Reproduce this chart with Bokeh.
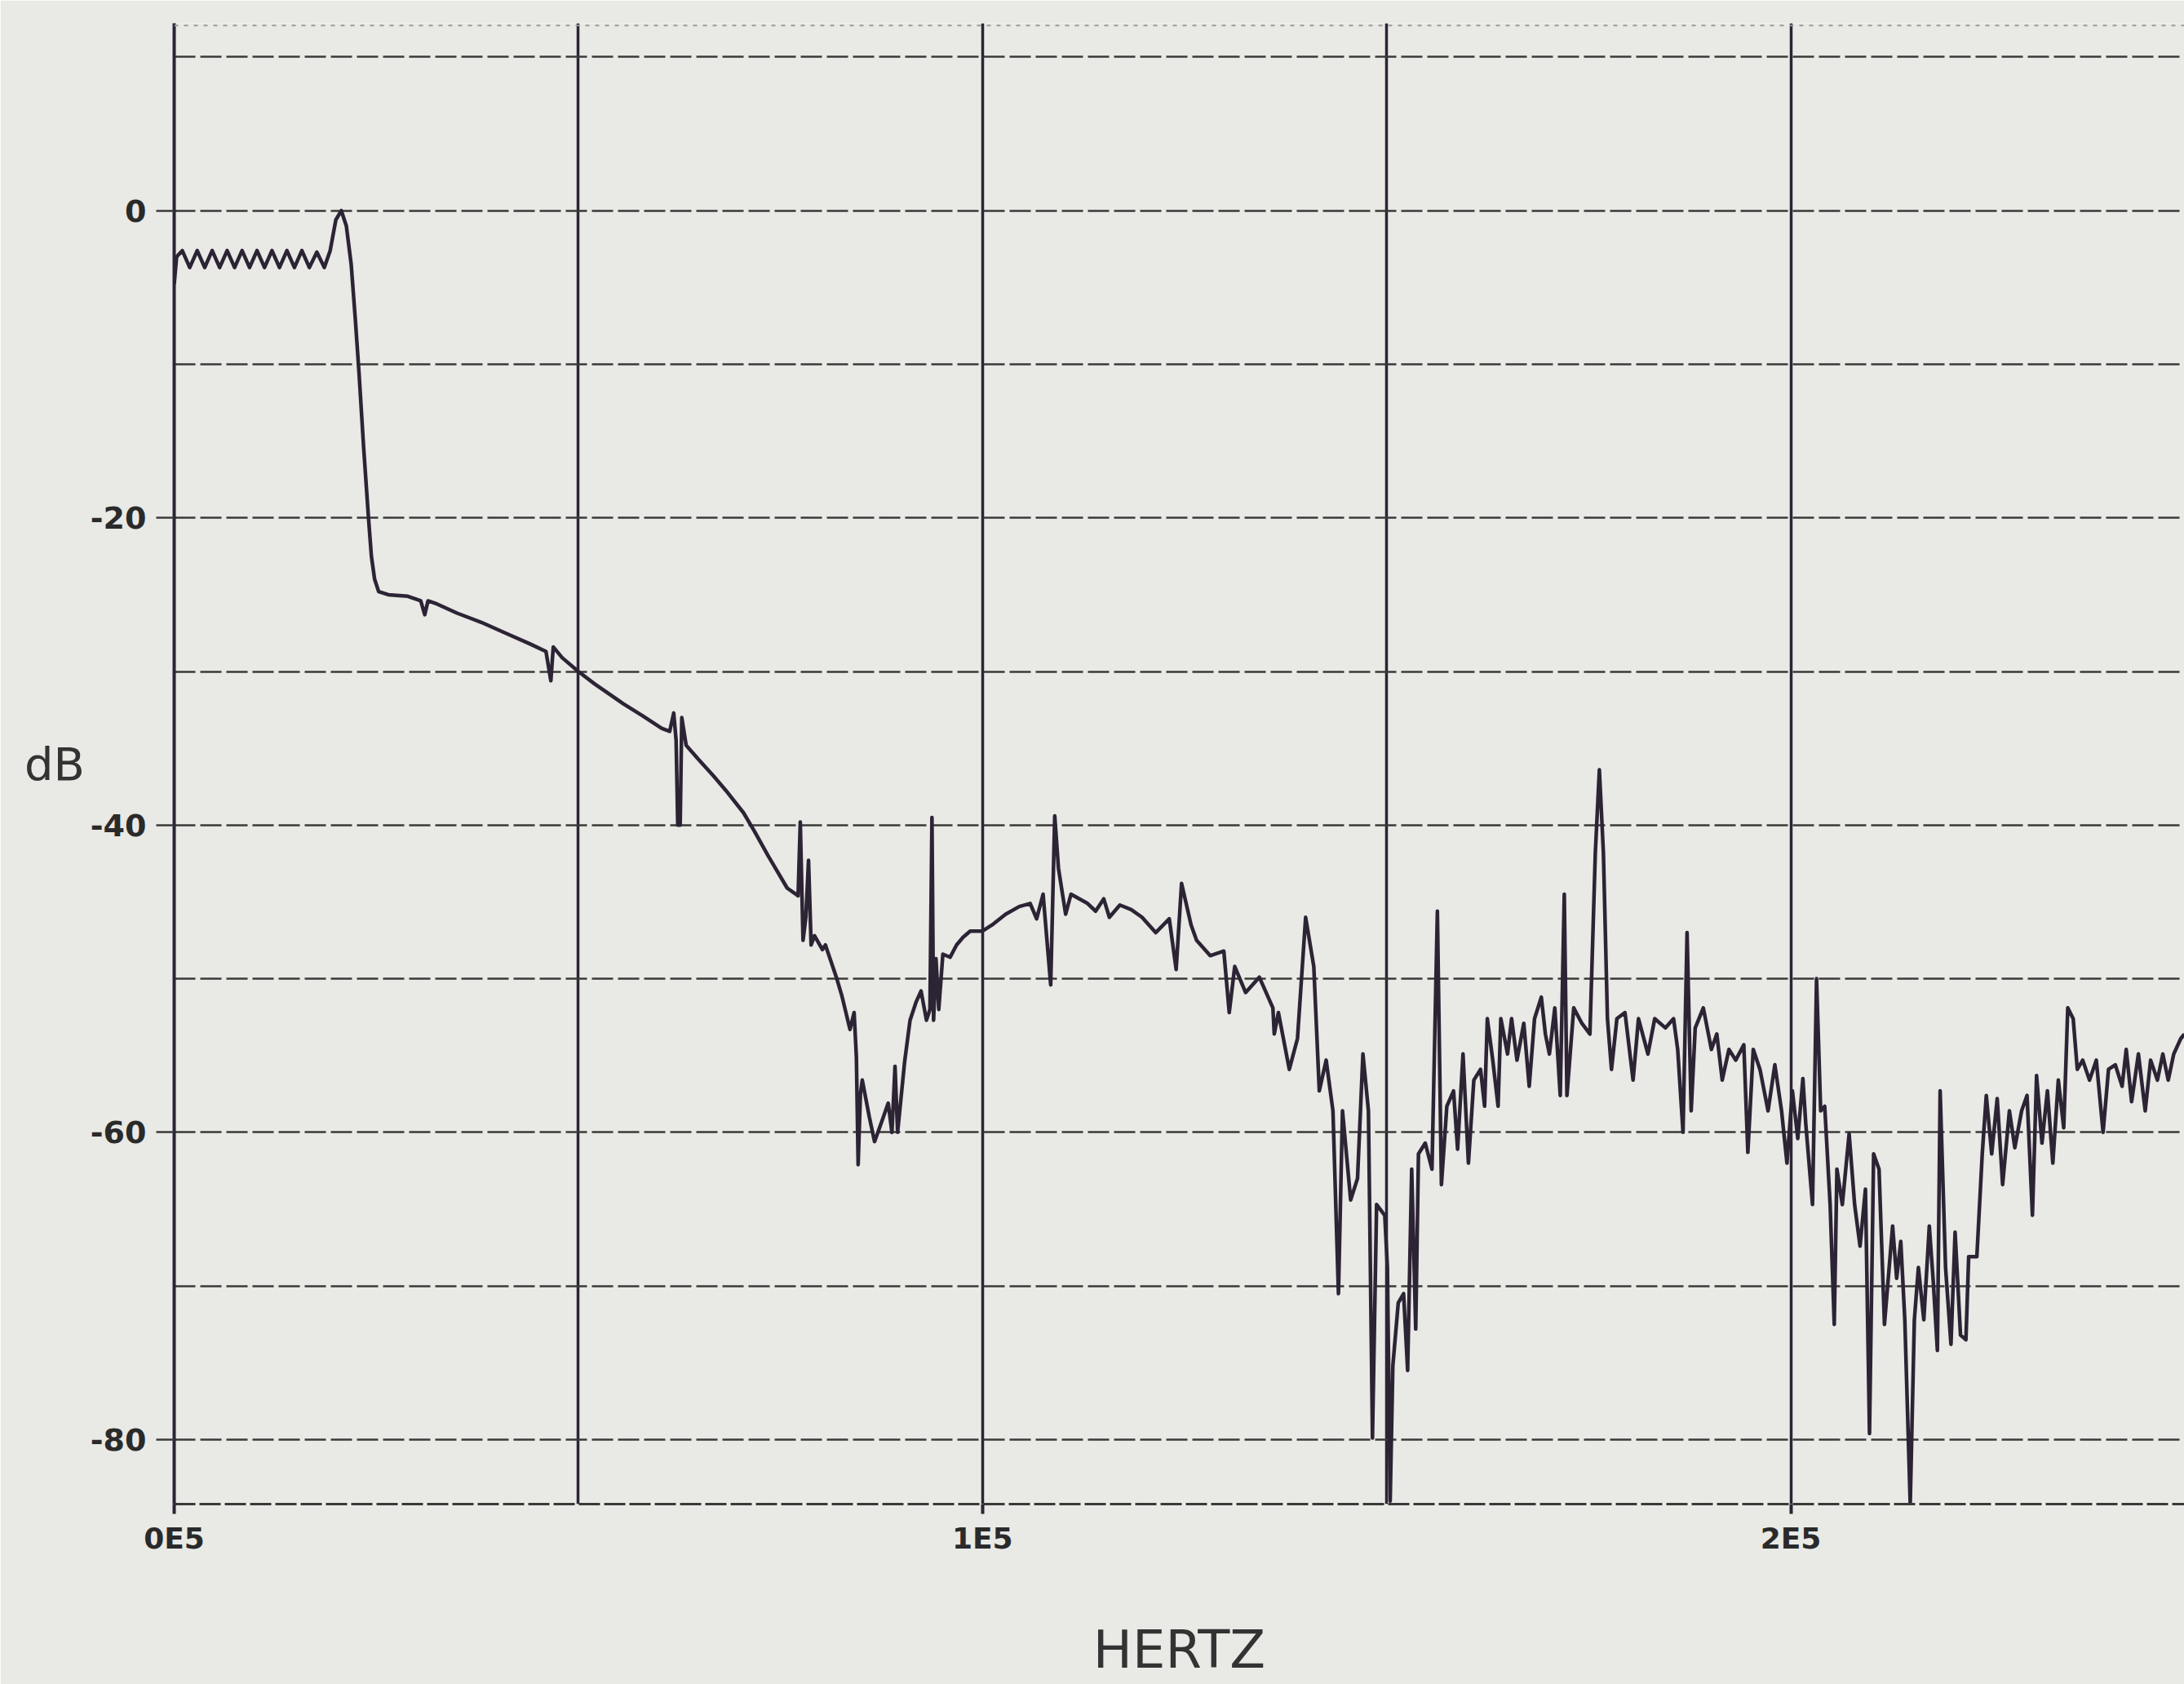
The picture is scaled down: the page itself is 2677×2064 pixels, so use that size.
from bokeh.plotting import figure
from bokeh.models import Range1d, FixedTicker, Span
from bokeh.embed import file_html
from bokeh.resources import INLINE

# ---------------- data ----------------
freq_hz = [
    0, 300, 1000, 1925, 2850, 3775, 4700, 5625, 6550, 7475, 8400, 9325, 10250, 11175,
    12100, 13025, 13950, 14875, 15800, 16725, 17650, 18575, 19300, 20000, 20680,
    21300, 21900, 22400, 22860, 23450, 24040, 24400, 24800, 25300, 26500, 28900,
    30500, 31000, 31400, 32500, 35000, 38000, 41000, 44000, 46000, 46600, 46900,
    48000, 50000,
    52000, 55570, 58000, 60300, 61300, 61800, 62100, 62300, 62600, 62800, 63100,
    63340, 65000, 66720, 68500, 70440, 71790, 73480, 75840, 77190, 77460, 77800,
    78150, 78480, 78800, 79220, 80200, 80570, 81920, 82600, 83610, 84120, 84400,
    84620, 84900, 85130, 86000, 86650, 87670, 88340, 88800, 89180, 89500, 90370,
    91040, 91800, 92400, 93070, 93500, 93750, 93950, 94250, 94590, 95100, 96000,
    96790, 97600, 98480, 100000,
    101180, 102870, 104550, 105900, 106700, 107500, 108440, 108940, 109400, 110290,
    110950, 113000, 114000, 115000, 115700, 117000, 118400, 119740, 121430, 123110,
    123960, 124630, 125810, 126490, 128170, 129860, 130530, 131210, 132560, 134250,
    135930, 136100, 136610, 137960, 138970, 139980, 140990, 141670, 142520, 143360,
    144040, 144540, 145550, 146400, 147070, 147750, 148250, 148760, 149770, 150100,
    150440, 150770, 151440, 152100, 152600, 153100, 153600, 153940,
    154780, 155610, 156280, 156780, 157450, 158280, 158780, 159450, 160120, 160790,
    161620, 162120, 162460, 163130, 163790, 164130, 164960, 165460, 166130, 166970,
    167640, 168300, 169140, 169640, 170140, 170810, 171480, 171980, 172310, 173150,
    174150, 175150, 175820, 176320, 176820, 177320, 177820, 178490, 179490, 180490,
    181160, 182330, 183170, 184500, 185500, 186010, 186670, 187170, 187680, 188180,
    189180, 190180, 190850, 191520, 192350, 193190, 194190, 194690, 195360, 196190,
    197190, 198030, 198860, 199530, 200200, 200870, 201500, 201850,
    202690, 203190, 203700, 204200, 204870, 205380, 205710, 206380, 207220, 207900,
    208570, 209240, 209740, 210250, 210920, 211590, 212600, 213100, 213610, 214110,
    214780, 215290, 215790, 216460, 217140, 217640, 218140, 218480, 219150, 219820,
    220330, 221000, 221670, 222010, 223020, 223690, 224190, 224860, 225540, 226210,
    227050, 227720, 228560, 229230, 229900, 230410, 231080, 231750, 232420, 233100,
    233770, 234270, 234940, 235450, 236120, 236960, 237800, 238640, 239310, 240150,
    240990, 241500, 242170, 243010, 243850, 244520, 245360, 246030, 246700, 247380,
    248250, 248700,
]
level_db = [
    -4.8, -3.0, -2.6, -3.7, -2.6, -3.7, -2.6, -3.7, -2.6, -3.7, -2.6, -3.7, -2.6, -3.7,
    -2.6, -3.7, -2.6, -3.7, -2.6, -3.7, -2.7, -3.7, -2.6, -0.6, 0.0,
    -1.0, -3.5, -7.0, -10.5, -15.5, -20.0, -22.5, -24.0, -24.8, -25.0, -25.1,
    -25.4, -26.3, -25.4, -25.6, -26.2, -26.8, -27.5, -28.2, -28.7, -30.6, -28.4,
    -29.1, -30.0,
    -30.8, -32.1, -32.9, -33.7, -33.9, -32.7, -34.5, -40.0, -40.0, -33.0, -34.0,
    -34.8, -35.8, -36.8, -37.9, -39.2, -40.4, -42.0, -44.1, -44.6, -39.8, -47.5,
    -46.0, -42.3, -47.8, -47.2, -48.1, -47.8, -49.9, -51.1, -53.3, -52.2, -55.1,
    -62.1, -57.5, -56.6, -59.0, -60.6, -59.1, -58.1, -60.0, -55.7, -60.0, -55.4,
    -52.7, -51.5, -50.8, -52.7, -52.0, -39.5, -52.7, -48.7, -52.0, -48.4, -48.6,
    -47.8, -47.3, -46.9, -46.9,
    -46.5, -45.8, -45.3, -45.1, -46.1, -44.5, -50.4, -39.4, -42.8, -45.8,
    -44.5, -45.1, -45.6, -44.8, -46.0, -45.2, -45.5, -46.0, -47.0, -46.1,
    -49.4, -43.8, -46.5, -47.5, -48.5, -48.2, -52.2, -49.2, -50.9, -49.9,
    -51.9, -53.6, -52.2, -55.9, -53.9, -46.0, -49.2, -57.3, -55.3, -58.6,
    -70.5, -58.6, -64.4, -63.0, -54.9, -58.6, -79.9, -64.7, -65.4, -68.8,
    -84.0, -75.2, -71.1, -70.5, -75.5, -62.4, -72.8, -61.4,
    -60.7, -62.4, -45.6, -63.4, -58.3, -57.3, -61.1, -54.9, -62.0, -56.6,
    -55.9, -58.3, -52.6, -55.3, -58.3, -52.6, -54.9, -52.6, -55.3, -52.9,
    -57.0, -52.6, -51.2, -53.6, -54.9, -51.9, -57.6, -44.5, -57.6, -51.9,
    -52.9, -53.6, -41.8, -36.4, -41.8, -52.6, -55.9, -52.6, -52.2, -56.6,
    -52.6, -54.9, -52.6, -53.2, -52.6, -54.6, -60.0, -47.0, -58.6, -53.2,
    -51.9, -54.6, -53.6, -56.6, -54.6, -55.3, -54.3, -61.3, -54.6, -55.9,
    -58.6, -55.6, -58.6, -62.0, -57.3, -60.4, -56.5, -59.4,
    -64.7, -50.0, -58.6, -58.3, -64.7, -72.5, -62.4, -64.7, -60.1, -64.7,
    -67.4, -63.7, -79.6, -61.4, -62.4, -72.5, -66.1, -69.5, -67.1, -72.2,
    -84.2, -72.2, -68.8, -72.2, -66.1, -69.8, -74.2, -57.3, -68.8, -73.8,
    -66.5, -73.2, -73.5, -68.1, -68.1, -61.4, -57.6, -61.4, -57.8, -63.4,
    -58.6, -61.0, -58.6, -57.6, -65.4, -56.3, -60.7, -57.3, -62.0, -56.6,
    -59.7, -51.9, -52.6, -55.9, -55.3, -56.6, -55.3, -60.0, -55.9, -55.6,
    -57.0, -54.6, -58.0, -54.9, -58.6, -55.3, -56.6, -54.9, -56.6, -54.9,
    -53.9, -53.6,
]

x_major_ticks = [0, 100000, 200000]
x_tick_labels = ["0E5", "1E5", "2E5"]
x_grid_values = [0, 50000, 100000, 150000, 200000]
y_major_ticks = [0, -20, -40, -60, -80]
y_tick_labels = ["0", "-20", "-40", "-60", "-80"]
y_grid_values = [10, 0, -10, -20, -30, -40, -50, -60, -70, -80]
x_title = "HERTZ"
y_title = "dB"

# ---------------- styling ----------------
BG = "#e9e9e5"
INK = "#2c2434"
GRIDH = "#3a3a3a"

p = figure(
    width=2677, height=2064, output_backend="svg", toolbar_location=None,
    x_range=Range1d(0, 248700), y_range=Range1d(-84.2, 12.2),
    min_border_left=213, min_border_right=0, min_border_top=28, min_border_bottom=221,
)
p.background_fill_color = BG
p.border_fill_color = BG
p.outline_line_color = None

# grids
p.xgrid.ticker = FixedTicker(ticks=x_grid_values)
p.xgrid.grid_line_color = INK
p.xgrid.grid_line_width = 3.5
p.xgrid.grid_line_alpha = 1.0
p.ygrid.ticker = FixedTicker(ticks=y_grid_values)
p.ygrid.grid_line_color = GRIDH
p.ygrid.grid_line_width = 2.5
p.ygrid.grid_line_dash = "26 6"
p.ygrid.grid_line_alpha = 1.0

# top border (faint dotted)
p.add_layout(Span(location=12.05, dimension="width", line_color="#9c9c9c",
                  line_width=2, line_dash="5 7"))

# x axis
xa = p.xaxis[0]
xa.ticker = FixedTicker(ticks=x_major_ticks)
xa.major_label_overrides = {t: s for t, s in zip(x_major_ticks, x_tick_labels)}
xa.minor_tick_line_color = None
xa.major_tick_in = 0
xa.major_tick_out = 12
xa.major_tick_line_color = INK
xa.major_tick_line_width = 4
xa.axis_line_color = GRIDH
xa.axis_line_width = 3
xa.axis_line_dash = "26 5"
xa.major_label_standoff = 9
xa.major_label_text_font = "DejaVu Sans"
xa.major_label_text_font_style = "bold"
xa.major_label_text_font_size = "36px"
xa.major_label_text_color = "#2a2a2a"
xa.axis_label = x_title
xa.axis_label_standoff = 76
xa.axis_label_text_font = "DejaVu Sans"
xa.axis_label_text_font_style = "normal"
xa.axis_label_text_font_size = "64px"
xa.axis_label_text_color = "#333333"

# y axis
ya = p.yaxis[0]
ya.ticker = FixedTicker(ticks=y_major_ticks)
ya.major_label_overrides = {t: s for t, s in zip(y_major_ticks, y_tick_labels)}
ya.minor_tick_line_color = None
ya.major_tick_in = 0
ya.major_tick_out = 22
ya.major_tick_line_color = GRIDH
ya.major_tick_line_width = 2.5
ya.axis_line_color = INK
ya.axis_line_width = 4
ya.major_label_standoff = 12
ya.major_label_text_font = "DejaVu Sans"
ya.major_label_text_font_style = "bold"
ya.major_label_text_font_size = "38px"
ya.major_label_text_color = "#2a2a2a"
ya.axis_label = y_title
ya.axis_label_standoff = 4
ya.axis_label_text_font = "DejaVu Sans"
ya.axis_label_text_font_style = "normal"
ya.axis_label_text_font_size = "56px"
ya.axis_label_text_color = "#333333"
try:
    ya.axis_label_orientation = "horizontal"
except Exception:
    pass

# the measured response
p.line(freq_hz, level_db, line_color=INK, line_width=4.5, line_join="round")

open("out.html", "w").write(file_html(p, INLINE))
